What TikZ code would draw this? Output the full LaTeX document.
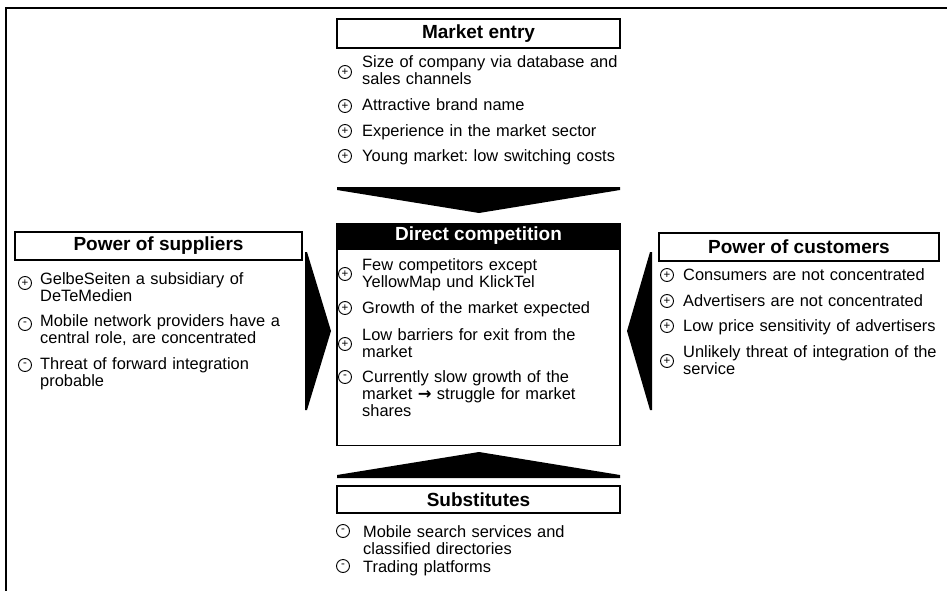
\documentclass[tikz,border=0pt]{standalone}
\usepackage{fontspec}
\setmainfont{Liberation Sans}
\newfontfamily\arrowfont{DejaVu Sans}
\usetikzlibrary{positioning}
\frenchspacing

\begin{document}
\begin{tikzpicture}[
    x=1pt, y=-1pt,
    titlebox/.style={draw, line width=1.3pt, inner sep=0pt,
        font=\fontsize{19}{22}\selectfont\bfseries},
    bodybox/.style={draw, line width=1.3pt, inner sep=0pt},
    entry/.style={anchor=base west, inner sep=0pt, text width=300pt,
        align=left, font=\fontsize{16.4}{17}\selectfont},
    sign/.style={circle, draw, line width=0.9pt, minimum size=13pt,
        inner sep=0pt, font=\fontsize{11.5}{11.5}\selectfont},
    wedge/.style={fill=black},
]
\useasboundingbox (0,0) rectangle (947,591);

% ---- layout parameters ----
\def\cL{337}    % left edge of centre column
\def\cR{620}    % right edge of centre column
\def\sL{15}     % left edge of suppliers box
\def\kL{659}    % left edge of customers box
\def\dS{8}      % sign centre offset from box edge
\def\dT{25}     % text offset from box edge

% ---- outer frame ----
\draw[line width=2.2pt] (6,591) -- (6,8) -- (947,8);

% ---- headings ----
\node[titlebox, minimum width=283pt, minimum height=29pt]
    (entry) at (478.5,33.5) {Market entry};
\node[titlebox, fill=black, text=white, minimum width=283pt, minimum height=24pt]
    (rivalry) at (478.5,236) {Direct competition};
\node[bodybox, minimum width=283pt, minimum height=196pt, anchor=north]
    (rivalrybody) at (rivalry.south) {};
\node[titlebox, minimum width=283pt, minimum height=27pt]
    (subst) at (478.5,499.5) {Substitutes};
\node[titlebox, minimum width=287pt, minimum height=28pt]
    (suppl) at (158.5,246) {Power of suppliers};
\node[titlebox, minimum width=280pt, minimum height=28pt]
    (cust) at (799,247) {Power of customers};

% ---- wedges towards direct competition ----
\fill[wedge] (\cL,187) -- (\cR,187) -- (\cR,190) -- (479,213) -- (\cL,190) -- cycle;
\fill[wedge] (\cL,478) -- (\cL,475) -- (479,452) -- (\cR,475) -- (\cR,478) -- cycle;
\fill[wedge] (305,252) -- (307,252) -- (331,331) -- (307,410) -- (305,410) -- cycle;
\fill[wedge] (652,252) -- (650,252) -- (627,331) -- (650,410) -- (652,410) -- cycle;

% ---- market entry ----
\foreach \n/\yt/\ys/\sg/\txt in {
    1/68/72/+/{Size of company via database and\\sales channels},
    2/111/106/+/{Attractive brand name},
    3/136/131/+/{Experience in the market sector},
    4/161/156/+/{Young market: low switching costs}} {
    \node[sign] (me-s\n) at (\cL+\dS,\ys) {\sg};
    \node[entry] (me-t\n) at (\cL+\dT,\yt) {\txt};
}

% ---- direct competition ----
\foreach \n/\yt/\ys/\sg/\txt in {
    1/270/274/+/{Few competitors except\\YellowMap und KlickTel},
    2/313/308/+/{Growth of the market expected},
    3/340/344/+/{Low barriers for exit from the\\market},
    4/382/377/-/{Currently slow growth of the\\market {\arrowfont\bfseries →} struggle for market\\shares}} {
    \node[sign] (dc-s\n) at (\cL+\dS,\ys) {\sg};
    \node[entry] (dc-t\n) at (\cL+\dT,\yt) {\txt};
}

% ---- suppliers ----
\foreach \n/\yt/\ys/\sg/\txt in {
    1/284/283/+/{GelbeSeiten a subsidiary of\\DeTeMedien},
    2/326/324/-/{Mobile network providers have a\\central role, are concentrated},
    3/369/365/-/{Threat of forward integration\\probable}} {
    \node[sign] (ps-s\n) at (\sL+\dS+2,\ys) {\sg};
    \node[entry] (ps-t\n) at (\sL+\dT,\yt) {\txt};
}

% ---- customers ----
\foreach \n/\yt/\ys/\sg/\txt in {
    1/280/275/+/{Consumers are not concentrated},
    2/306/301/+/{Advertisers are not concentrated},
    3/331/326/+/{Low price sensitivity of advertisers},
    4/357/361/+/{Unlikely threat of integration of the\\service}} {
    \node[sign] (pc-s\n) at (\kL+\dS,\ys) {\sg};
    \node[entry] (pc-t\n) at (\kL+\dT-1,\yt) {\txt};
}

% ---- substitutes ----
\foreach \n/\yt/\ys/\sg/\txt in {
    1/537/531/-/{Mobile search services and\\classified directories},
    2/572/566/-/{Trading platforms}} {
    \node[sign] (su-s\n) at (\cL+\dS-2,\ys) {\sg};
    \node[entry] (su-t\n) at (\cL+\dT+1,\yt) {\txt};
}

\end{tikzpicture}
\end{document}
